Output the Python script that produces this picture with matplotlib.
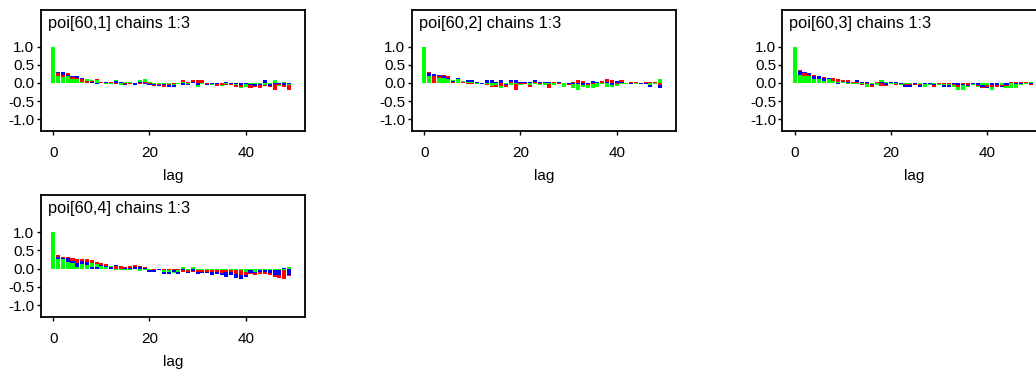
import numpy as np
import matplotlib
matplotlib.use("Agg")
import matplotlib.pyplot as plt

plt.rcParams['font.family'] = ['Liberation Sans', 'DejaVu Sans']

lags = list(range(50))
chain_colors = ['#ff0000', '#0000ff', '#00ff00']
titles = ['poi[60,1] chains 1:3', 'poi[60,2] chains 1:3',
          'poi[60,3] chains 1:3', 'poi[60,4] chains 1:3']
x_ticks = [0, 20, 40]
y_ticks = [-1.0, -0.5, 0.0, 0.5, 1.0]
y_tick_labels = ['-1.0', '-0.5', '0.0', '0.5', '1.0']

# ---- panel 1: poi[60,1] ----
p1_red = [1.0, 0.27, 0.23, 0.28, 0.16, 0.14, 0.10, 0.05, 0.06, 0.10,
          0.02, 0.01, 0.02, -0.03, 0.01, -0.02, -0.03, 0.01, -0.02, 0.04,
          -0.03, -0.08, -0.05, -0.10, -0.05, -0.04, -0.03, 0.07, 0.03, 0.07,
          0.07, 0.07, -0.02, -0.03, -0.08, -0.05, -0.05, -0.05, -0.10, -0.10,
          -0.10, -0.14, -0.12, -0.13, -0.09, -0.12, -0.18, -0.05, -0.12, -0.19]
p1_blue = [1.0, 0.30, 0.30, 0.22, 0.19, 0.19, 0.14, 0.12, 0.04, -0.04,
           0.03, 0.03, 0.03, 0.06, 0.03, -0.05, -0.01, -0.05, 0.02, -0.04,
           -0.05, -0.05, -0.09, -0.05, -0.10, -0.10, -0.04, -0.05, -0.05, 0.04,
           -0.06, 0.00, -0.05, -0.02, -0.04, -0.06, 0.04, -0.03, -0.03, -0.06,
           -0.03, -0.05, -0.07, -0.05, 0.07, -0.07, -0.02, -0.03, -0.05, -0.03]
p1_green = [1.0, 0.18, 0.17, 0.20, 0.12, 0.12, 0.02, 0.11, 0.08, 0.08,
            -0.01, -0.03, -0.03, 0.08, -0.06, 0.04, 0.04, 0.00, 0.08, 0.10,
            0.02, -0.02, -0.02, -0.03, -0.03, -0.06, -0.02, 0.02, -0.04, 0.01,
            -0.10, -0.02, 0.00, -0.05, -0.01, -0.08, -0.02, -0.06, -0.06, -0.14,
            -0.10, -0.03, -0.02, -0.03, -0.05, -0.03, 0.07, -0.07, 0.03, -0.06]

# ---- panel 2: poi[60,2] ----
p2_red = [1.0, 0.30, 0.18, 0.20, 0.22, 0.18, 0.02, 0.12, 0.02, -0.04,
          -0.04, 0.01, -0.04, -0.05, -0.12, -0.12, -0.08, -0.10, 0.02, -0.20,
          -0.03, -0.02, -0.10, 0.02, -0.03, -0.01, -0.13, 0.02, -0.02, 0.01,
          -0.06, 0.04, 0.08, 0.05, -0.05, -0.02, 0.01, 0.06, 0.10, 0.08,
          -0.03, 0.07, 0.00, 0.03, 0.03, 0.01, 0.03, 0.02, 0.03, -0.05]
p2_blue = [1.0, 0.28, 0.26, 0.22, 0.20, 0.15, 0.05, 0.15, 0.03, 0.08,
           0.07, 0.03, -0.03, 0.08, 0.08, 0.03, 0.07, -0.06, 0.08, 0.08,
           0.04, 0.04, 0.03, 0.08, 0.04, 0.02, 0.03, 0.03, 0.03, -0.01,
           -0.02, -0.03, -0.04, -0.06, -0.02, 0.05, 0.03, -0.04, 0.04, -0.06,
           0.05, 0.03, -0.04, -0.03, -0.03, -0.04, -0.02, -0.10, -0.03, -0.15]
p2_green = [1.0, 0.20, 0.20, 0.15, 0.15, 0.10, 0.08, 0.10, 0.06, 0.02,
            0.02, -0.02, 0.01, -0.02, -0.08, -0.05, -0.15, -0.02, -0.05, -0.03,
            -0.05, -0.03, -0.05, -0.04, -0.06, -0.06, -0.03, -0.06, -0.04, -0.10,
            -0.03, -0.14, -0.20, -0.12, -0.15, -0.15, -0.10, -0.03, -0.10, -0.10,
            -0.08, -0.04, -0.02, -0.01, -0.02, -0.01, -0.04, -0.05, -0.02, 0.10]

# ---- panel 3: poi[60,3] ----
p3_red = [1.0, 0.36, 0.28, 0.22, 0.22, 0.20, 0.17, 0.12, 0.15, 0.10,
          0.08, 0.08, 0.02, 0.03, -0.05, -0.04, -0.12, 0.02, -0.08, -0.08,
          0.01, -0.06, 0.01, -0.05, -0.05, -0.05, -0.05, -0.04, -0.06, -0.12,
          -0.03, -0.02, -0.03, -0.05, -0.10, -0.03, -0.05, -0.01, -0.08, -0.14,
          -0.10, -0.10, -0.10, -0.08, -0.08, 0.02, 0.04, 0.04, 0.02, -0.05]
p3_blue = [1.0, 0.33, 0.30, 0.27, 0.18, 0.18, 0.14, 0.15, 0.05, -0.02,
           0.00, 0.02, 0.03, 0.07, 0.02, 0.02, -0.05, 0.03, 0.03, -0.05,
           0.03, 0.02, -0.03, -0.10, -0.10, -0.02, -0.10, -0.02, -0.03, -0.05,
           -0.05, -0.10, -0.10, -0.04, -0.05, -0.05, -0.08, -0.03, -0.06, -0.10,
           -0.14, -0.05, -0.05, -0.10, -0.06, 0.03, -0.03, -0.04, -0.03, -0.02]
p3_green = [1.0, 0.22, 0.20, 0.18, 0.12, 0.12, 0.06, 0.10, 0.05, 0.03,
            0.02, -0.02, -0.02, -0.02, -0.03, -0.10, -0.03, -0.05, 0.08, 0.02,
            -0.02, -0.03, -0.05, -0.02, -0.03, -0.03, -0.03, -0.10, -0.05, -0.03,
            -0.05, -0.05, -0.05, -0.10, -0.20, -0.20, -0.12, -0.05, -0.10, -0.06,
            -0.05, -0.18, -0.12, -0.05, -0.15, -0.15, -0.15, -0.05, -0.03, 0.03]

# ---- panel 4: poi[60,4] ----
p4_red = [1.0, 0.36, 0.33, 0.33, 0.30, 0.25, 0.25, 0.25, 0.23, 0.18,
          0.15, 0.12, 0.08, 0.06, 0.06, 0.05, 0.06, 0.10, 0.07, 0.04,
          -0.05, -0.05, -0.05, -0.05, -0.05, -0.05, -0.05, -0.10, -0.10, -0.10,
          -0.10, -0.10, -0.08, -0.10, -0.10, -0.12, -0.10, -0.10, -0.15, -0.17,
          -0.18, -0.15, -0.17, -0.15, -0.15, -0.17, -0.22, -0.25, -0.28, -0.20]
p4_blue = [1.0, 0.32, 0.30, 0.28, 0.22, 0.16, 0.20, 0.18, 0.05, 0.05,
           0.10, 0.08, 0.04, 0.10, 0.08, 0.02, 0.02, 0.05, 0.05, 0.03,
           -0.10, -0.10, -0.03, -0.14, -0.14, -0.08, -0.14, -0.05, -0.12, -0.07,
           -0.14, -0.13, -0.12, -0.17, -0.14, -0.18, -0.22, -0.18, -0.25, -0.28,
           -0.24, -0.12, -0.12, -0.10, -0.10, -0.12, -0.17, -0.17, 0.03, -0.18]
p4_green = [1.0, 0.25, 0.25, 0.18, 0.15, 0.05, 0.12, 0.10, 0.15, 0.12,
            0.06, 0.05, 0.06, -0.05, -0.04, -0.03, -0.03, -0.02, -0.06, -0.05,
            -0.03, -0.02, -0.02, -0.08, -0.08, -0.12, -0.10, 0.05, -0.03, 0.04,
            -0.03, -0.03, -0.03, -0.05, -0.05, -0.03, -0.05, -0.05, -0.05, -0.05,
            -0.10, -0.05, -0.08, -0.05, -0.05, -0.05, -0.05, -0.05, -0.05, 0.05]

panels = [
    (titles[0], [p1_red, p1_blue, p1_green]),
    (titles[1], [p2_red, p2_blue, p2_green]),
    (titles[2], [p3_red, p3_blue, p3_green]),
    (titles[3], [p4_red, p4_blue, p4_green]),
]

W, H = 1036, 370
fig = plt.figure(figsize=(W / 100, H / 100), dpi=100)

# axes rectangles in pixels: (left, top, width, height)
rects_px = [(40.7, 10.0, 264.3, 120.7),
            (411.7, 10.0, 264.3, 120.7),
            (782.3, 10.0, 264.3, 120.7),
            (40.7, 195.0, 264.3, 121.7)]

for (title, chains), (l, t, w, h) in zip(panels, rects_px):
    ax = fig.add_axes([l / W, (H - t - h) / H, w / W, h / H])
    vals = np.array(chains)
    for ci, (vv, col) in enumerate(zip(chains, chain_colors)):
        bars = ax.bar(lags, vv, width=0.85, color=col, linewidth=0)
        for li, patch in enumerate(bars.patches):
            # smaller magnitude drawn on top so every chain stays visible
            order = np.argsort(-np.abs(vals[:, li]), kind='stable')
            rank = int(np.where(order == ci)[0][0])
            if li == 0:
                rank = ci
            patch.set_zorder(2 + rank)
    ax.set_xlim(-2.62, 52.33)
    ax.set_ylim(-1.32, 2.02)
    ax.set_xticks(x_ticks)
    ax.set_yticks(y_ticks)
    ax.set_yticklabels(y_tick_labels)
    ax.tick_params(axis='both', direction='out', length=3, width=1,
                   labelsize=11, colors='black')
    ax.tick_params(axis='x', pad=8)
    ax.tick_params(axis='y', pad=1.5)
    for s in ax.spines.values():
        s.set_linewidth(1.3)
        s.set_color('black')
    ax.set_xlabel('lag', fontsize=11, labelpad=6.5)
    ax.text(0.027, 0.855, title, transform=ax.transAxes, fontsize=11.8,
            ha='left', va='baseline', color='black')

fig.savefig('out.png', dpi=100)
